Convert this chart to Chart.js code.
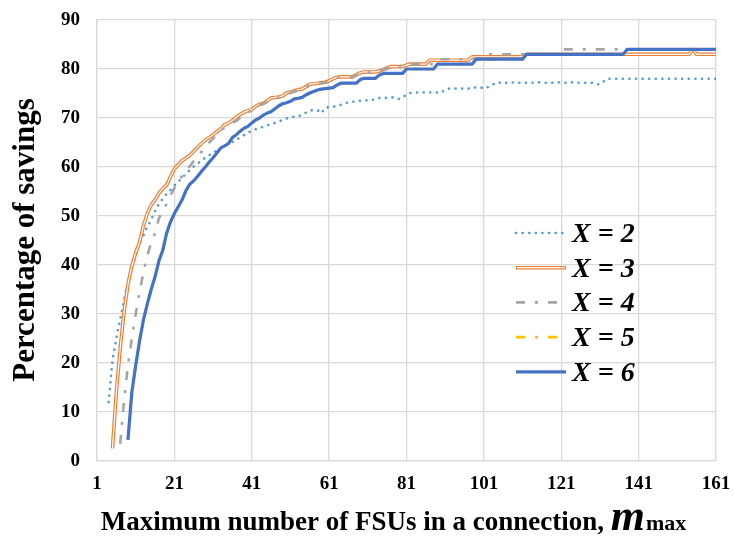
<!DOCTYPE html>
<html>
<head>
<meta charset="utf-8">
<script src="https://cdn.jsdelivr.net/npm/chart.js@4.4.1/dist/chart.umd.min.js"></script>
<style>
    html, body { margin: 0; padding: 0; background: #fff; }
    canvas { display: block; }
</style>
</head>
<body>
<canvas id="savingsChart" width="734" height="536"></canvas>
<script>
// Series values, one value per m (from the start m to 161)
const x2Start = 4;
const x2Values = [
    12, 20.5, 25, 29, 33, 36.5, 39.5, 42, 44.5, 46,
    47.8, 49.2, 51, 52.5, 53.5, 54.5, 55.3, 56.2, 57, 57.8,
    58.6, 59.4, 60.1, 60.7, 61.3, 61.9, 62.4, 62.9, 63.4, 63.9,
    64.3, 64.7, 65.1, 65.6, 66, 66.5, 67, 67.4, 67.7, 68,
    68.2, 68.5, 68.7, 69, 69.3, 69.6, 69.9, 70.1, 70.3, 70.4,
    70.6, 71.1, 71.5, 71.6, 71.6, 71, 72.1, 72.2, 72.3, 72.4,
    72.7, 73, 73.2, 73.3, 73.4, 73.5, 73.6, 73.6, 73.7, 73.8,
    74.1, 74.1, 74.1, 74.2, 74.2, 73.9, 74.2, 74.8, 75.1, 75.2,
    75.2, 75.2, 75.2, 75.2, 75.2, 75.2, 75.2, 75.8, 76, 76,
    76, 76, 76, 76, 76, 76.3, 76.3, 76, 76.3, 76.6,
    77.2, 77.2, 77.1, 77.2, 77.2, 77.3, 77.2, 77.2, 77.2, 77.2,
    77.2, 77.3, 77.2, 77.2, 77.2, 77.2, 77.3, 77.2, 77.2, 77.2,
    77.3, 77.2, 77.2, 77.2, 77.2, 77.2, 76.9, 76.9, 77.5, 78,
    78, 78, 78, 78, 78, 78, 78, 78, 78, 78,
    78, 78, 78, 78, 78, 78, 78, 78, 78, 78,
    78, 78, 78, 78, 78, 78, 78, 78
];

const x3Start = 5;
const x3Values = [
    2.6, 14, 23, 30.5, 36, 39.8, 42.5, 44.6, 48, 50.5,
    52.2, 53.3, 54.6, 55.6, 56.3, 58, 59.6, 60.5, 61.3, 61.8,
    62.4, 63.2, 64, 64.8, 65.5, 66, 66.6, 67.2, 67.8, 68.6,
    69, 69.5, 70.2, 70.7, 71.2, 71.5, 71.7, 72.4, 72.8, 73,
    73.5, 74.1, 74.2, 74.3, 74.5, 75.1, 75.3, 75.5, 75.8, 75.9,
    76.4, 76.9, 77, 77.1, 77.2, 77.3, 77.6, 78, 78.3, 78.4,
    78.4, 78.4, 78.4, 78.8, 79.2, 79.4, 79.4, 79.4, 79.4, 79.6,
    79.9, 80.2, 80.5, 80.5, 80.5, 80.5, 80.8, 81, 81, 81,
    81, 81, 81.8, 81.8, 81.8, 81.8, 81.8, 81.8, 81.8, 81.8,
    81.8, 81.8, 81.8, 82.5, 82.5, 82.5, 82.5, 82.5, 82.5, 82.5,
    82.5, 82.5, 82.5, 82.5, 82.5, 82.5, 82.5, 83, 83, 83,
    83, 83, 83, 83, 83, 83, 83, 83, 83, 83,
    83, 83, 83, 83, 83, 83, 83, 83, 83, 83,
    83, 83, 83, 83, 83, 83, 83, 83, 83, 83,
    83, 83, 83, 83, 83, 83, 83, 83, 83, 83,
    84, 83, 83, 83, 83, 83, 83
];

const x4Start = 7;
const x4Values = [
    3.5, 12.5, 19.5, 25, 30, 34.5, 38.5, 42, 44.5, 46.5,
    49.5, 51, 52.5, 54.2, 55.7, 57, 58.2, 59.3, 60.2, 61.2,
    62.2, 63.1, 64, 65, 65.8, 66.7, 67.5, 68, 68.5, 69,
    69.4, 70, 70.6, 71.2, 71.5, 72.2, 72.6, 72.9, 73.3, 73.8,
    74, 74.2, 74.4, 74.9, 75.1, 75.4, 75.6, 75.8, 76.2, 76.7,
    76.9, 77, 77.1, 77.2, 77.5, 77.9, 78.2, 78.3, 78.3, 78.3,
    78.3, 78.7, 79.1, 79.3, 79.3, 79.3, 79.3, 79.6, 79.9, 80.1,
    80.4, 80.4, 80.4, 81, 81, 81, 81, 81, 81, 81,
    81, 81, 82, 82, 82, 82, 82, 82, 82, 82,
    82, 82, 82, 82, 83, 83, 83, 83, 83, 83,
    83, 83, 83, 83, 83, 83, 83, 83, 83, 83,
    83, 83, 83, 83, 84, 84, 84, 84, 84, 84,
    84, 84, 84, 84, 84, 84, 84, 84, 84, 84,
    84, 84, 84, 84, 84, 84, 84, 84, 84, 84,
    84, 84, 84, 84, 84, 84, 84, 84, 84, 84,
    84, 84, 84, 84, 84
];

// X = 5 sits underneath X = 6 in the figure
const x5Start = 9;
const x5Values = [
    4.3, 14, 19.5, 24.5, 28.8, 32, 35, 37.6, 40.8, 43,
    46.5, 48.8, 50.5, 51.9, 53.3, 55.2, 56.5, 57.2, 58.1, 59.1,
    60, 61, 61.9, 62.9, 63.9, 64.3, 64.8, 66, 66.6, 67.3,
    67.9, 68.3, 69, 69.6, 70, 70.6, 71, 71.3, 71.9, 72.5,
    72.9, 73.1, 73.4, 73.9, 74, 74.2, 74.7, 75.1, 75.4, 75.7,
    75.9, 76, 76.1, 76.2, 76.7, 77.1, 77.1, 77.1, 77.1, 77.1,
    77.8, 78.1, 78.1, 78.1, 78.1, 78.8, 79.1, 79.1, 79.1, 79.1,
    79.1, 79.1, 80, 80, 80, 80, 80, 80, 80, 80,
    81, 81, 81, 81, 81, 81, 81, 81, 81, 81,
    82, 82, 82, 82, 82, 82, 82, 82, 82, 82,
    82, 82, 82, 83, 83, 83, 83, 83, 83, 83,
    83, 83, 83, 83, 83, 83, 83, 83, 83, 83,
    83, 83, 83, 83, 83, 83, 83, 83, 83, 84,
    84, 84, 84, 84, 84, 84, 84, 84, 84, 84,
    84, 84, 84, 84, 84, 84, 84, 84, 84, 84,
    84, 84, 84
];

const x6Start = 9;
const x6Values = [
    4.3, 14, 19.5, 24.5, 28.8, 32, 35, 37.6, 40.8, 43,
    46.5, 48.8, 50.5, 51.9, 53.3, 55.2, 56.5, 57.2, 58.1, 59.1,
    60, 61, 61.9, 62.9, 63.9, 64.3, 64.8, 66, 66.6, 67.3,
    67.9, 68.3, 69, 69.6, 70, 70.6, 71, 71.3, 71.9, 72.5,
    72.9, 73.1, 73.4, 73.9, 74, 74.2, 74.7, 75.1, 75.4, 75.7,
    75.9, 76, 76.1, 76.2, 76.7, 77.1, 77.1, 77.1, 77.1, 77.1,
    77.8, 78.1, 78.1, 78.1, 78.1, 78.8, 79.1, 79.1, 79.1, 79.1,
    79.1, 79.1, 80, 80, 80, 80, 80, 80, 80, 80,
    81, 81, 81, 81, 81, 81, 81, 81, 81, 81,
    82, 82, 82, 82, 82, 82, 82, 82, 82, 82,
    82, 82, 82, 83, 83, 83, 83, 83, 83, 83,
    83, 83, 83, 83, 83, 83, 83, 83, 83, 83,
    83, 83, 83, 83, 83, 83, 83, 83, 83, 84,
    84, 84, 84, 84, 84, 84, 84, 84, 84, 84,
    84, 84, 84, 84, 84, 84, 84, 84, 84, 84,
    84, 84, 84
];

const seriesNames = ['X = 2', 'X = 3', 'X = 4', 'X = 5', 'X = 6'];
const xTickValues = [1, 21, 41, 61, 81, 101, 121, 141, 161];
const yTickValues = [0, 10, 20, 30, 40, 50, 60, 70, 80, 90];

// Styles
const seriesColors = ['#5B9BD5', '#ED7D31', '#A5A5A5', '#FFC000', '#4472C4'];
const seriesDash = [[0.1, 6.5], [], [9, 10, 3, 10], [9, 10, 3, 10], []];
const seriesWidths = [2.6, 3.6, 2.6, 2.6, 3.2];
const serif = '"Liberation Serif", "Times New Roman", serif';

function toPoints(start, values) {
    return values.map((v, i) => ({ x: start + i, y: v }));
}

const seriesData = [
    toPoints(x2Start, x2Values),
    toPoints(x3Start, x3Values),
    toPoints(x4Start, x4Values),
    toPoints(x5Start, x5Values),
    toPoints(x6Start, x6Values)
];

// Excel draws later series on top; in Chart.js a lower "order" is drawn later
const datasets = seriesNames.map((name, i) => ({
    label: name,
    data: seriesData[i],
    borderColor: seriesColors[i],
    borderWidth: seriesWidths[i],
    borderDash: seriesDash[i],
    borderCapStyle: i === 0 ? 'round' : 'butt',
    borderJoinStyle: 'round',
    pointRadius: 0,
    fill: false,
    order: 10 - 2 * i
}));
// white core of the double line used for X = 3
datasets.push({
    label: 'X = 3 inner',
    data: seriesData[1],
    borderColor: '#FFFFFF',
    borderWidth: 1.2,
    borderJoinStyle: 'round',
    pointRadius: 0,
    fill: false,
    order: 7
});

function drawSample(ctx, i, x1, x2, y) {
    ctx.save();
    ctx.strokeStyle = seriesColors[i];
    ctx.lineWidth = seriesWidths[i];
    ctx.setLineDash(seriesDash[i]);
    ctx.lineCap = i === 0 ? 'round' : 'butt';
    ctx.beginPath();
    ctx.moveTo(x1, y);
    ctx.lineTo(x2, y);
    ctx.stroke();
    if (i === 1) {
        ctx.strokeStyle = '#FFFFFF';
        ctx.lineWidth = 1.2;
        ctx.beginPath();
        ctx.moveTo(x1 + 1, y);
        ctx.lineTo(x2 - 1, y);
        ctx.stroke();
    }
    ctx.restore();
}

const textPlugin = {
    id: 'excelText',
    afterDatasetsDraw(chart) {
        const ctx = chart.ctx;
        // legend inside the plot area
        ctx.save();
        ctx.fillStyle = '#000';
        ctx.font = 'italic bold 28px ' + serif;
        ctx.textBaseline = 'alphabetic';
        ctx.textAlign = 'left';
        seriesNames.forEach((name, i) => {
            const y = 233 + i * 34.7;
            drawSample(ctx, i, 516, 566, y);
            ctx.fillText(name, 572, y + 9);
        });
        ctx.restore();
    },
    afterDraw(chart) {
        const ctx = chart.ctx;
        ctx.save();
        ctx.fillStyle = '#000';
        ctx.textBaseline = 'alphabetic';

        // y axis title
        ctx.save();
        ctx.translate(34, 240);
        ctx.rotate(-Math.PI / 2);
        ctx.textAlign = 'center';
        ctx.font = 'bold 31px ' + serif;
        ctx.fillText('Percentage of savings', 0, 0);
        ctx.restore();

        // x axis title with italic m and smaller "max"
        const part1 = 'Maximum number of FSUs in a connection, ';
        const f1 = 'bold 27px ' + serif;
        const f2 = 'italic bold 44px ' + serif;
        const f3 = 'bold 22px ' + serif;
        ctx.font = f1; const w1 = ctx.measureText(part1).width;
        ctx.font = f2; const w2 = ctx.measureText('m').width;
        ctx.font = f3; const w3 = ctx.measureText('max').width;
        let x = 393 - (w1 + w2 + w3) / 2;
        const base = 530;
        ctx.textAlign = 'left';
        ctx.font = f1; ctx.fillText(part1, x, base); x += w1;
        ctx.font = f2; ctx.fillText('m', x, base); x += w2 + 1;
        ctx.font = f3; ctx.fillText('max', x, base);
        ctx.restore();
    }
};

const tickFont = { family: serif, size: 19, weight: 'bold' };
const gridStyle = { color: '#D9D9D9', lineWidth: 1.3, drawTicks: false };
const borderStyle = { color: '#D9D9D9', width: 1.3 };

const ctx = document.getElementById('savingsChart').getContext('2d');
const savingsChart = new Chart(ctx, {
    type: 'line',
    data: { datasets: datasets },
    options: {
        responsive: false,
        devicePixelRatio: 1,
        animation: false,
        layout: { padding: { top: 20, right: 18, left: 0, bottom: 0 } },
        plugins: {
            legend: { display: false },
            tooltip: { enabled: false }
        },
        elements: { line: { tension: 0 } },
        scales: {
            x: {
                type: 'linear',
                min: 1,
                max: 161,
                afterBuildTicks: s => { s.ticks = xTickValues.map(v => ({ value: v })); },
                afterFit: s => { s.height = 75; s.paddingLeft = 0; s.paddingRight = 0; },
                ticks: { font: tickFont, color: '#000', padding: 12, maxRotation: 0, autoSkip: false },
                grid: gridStyle,
                border: borderStyle
            },
            y: {
                type: 'linear',
                min: 0,
                max: 90,
                afterBuildTicks: s => { s.ticks = yTickValues.map(v => ({ value: v })); },
                afterFit: s => { s.width = 97; s.paddingTop = 0; s.paddingBottom = 0; },
                ticks: { font: tickFont, color: '#000', padding: 17 },
                grid: gridStyle,
                border: borderStyle
            }
        }
    },
    plugins: [textPlugin]
});
</script>
</body>
</html>
